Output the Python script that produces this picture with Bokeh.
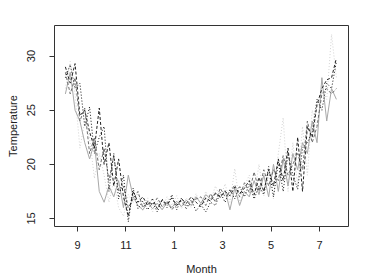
from bokeh.plotting import figure
from bokeh.models import Range1d, FixedTicker
from bokeh.embed import file_html
from bokeh.resources import INLINE

# month position (9 = Sep, 13 = Jan of next year, 19 = Jul)
month = [8.5, 8.7, 8.9, 9.1, 9.3, 9.5, 9.7, 9.9, 10.1, 10.3, 10.5, 10.7, 10.9,
         11.1, 11.3, 11.5, 11.7, 11.9, 12.1, 12.3, 12.5, 12.7, 12.9, 13.1, 13.3,
         13.5, 13.7, 13.9, 14.1, 14.3, 14.5, 14.7, 14.9, 15.1, 15.3, 15.5, 15.7,
         15.9, 16.1, 16.3, 16.5, 16.7, 16.9, 17.1, 17.3, 17.5, 17.7, 17.9, 18.1,
         18.3, 18.5, 18.7, 18.9, 19.1, 19.3, 19.5, 19.7]

series_a = [26.5, 28.5, 25.0, 24.0, 22.0, 20.5, 22.0, 17.5, 16.5, 18.0, 17.0, 18.5, 16.0,
            19.0, 17.0, 16.2, 15.8, 16.5, 15.9, 16.4, 15.8, 16.5, 16.0, 16.6, 16.1,
            16.7, 16.2, 17.0, 16.4, 17.2, 16.8, 17.4, 16.9, 17.6, 15.8, 17.8, 16.2,
            17.5, 17.0, 18.5, 17.2, 19.0, 17.0, 20.0, 17.5, 20.5, 18.0, 21.0, 19.5,
            22.0, 21.0, 24.0, 22.0, 28.0, 24.0, 27.0, 26.0]
series_b = [29.0, 27.5, 29.3, 24.5, 25.0, 23.0, 21.5, 25.2, 20.0, 22.0, 18.0, 20.5, 17.0,
            15.2, 17.5, 16.5, 17.0, 16.2, 16.8, 15.9, 16.7, 16.3, 16.9, 16.2, 16.8,
            16.4, 17.0, 16.5, 16.1, 16.9, 16.6, 17.3, 17.0, 17.5, 17.1, 17.9, 17.3,
            17.8, 18.5, 17.2, 18.8, 17.5, 19.5, 18.0, 20.5, 18.5, 21.5, 17.5, 22.5,
            17.5, 23.5, 22.5, 25.5, 27.0, 27.8, 28.0, 29.8]
series_c = [28.0, 29.2, 27.0, 27.5, 23.5, 25.3, 21.0, 22.5, 23.5, 17.5, 21.0, 16.8, 19.0,
            14.7, 17.8, 15.9, 16.6, 15.8, 16.5, 15.6, 16.8, 16.0, 17.2, 15.8, 16.9,
            16.1, 16.7, 15.7, 16.3, 15.6, 16.5, 16.2, 17.4, 16.5, 17.7, 16.8, 18.0,
            17.0, 18.2, 16.8, 18.0, 17.2, 19.8, 17.0, 20.2, 17.5, 21.0, 19.0, 17.7,
            21.5, 22.0, 23.0, 26.0, 25.0, 27.5, 27.0, 29.5]
series_d = [27.0, 29.5, 26.5, 21.5, 24.0, 22.5, 18.7, 21.0, 19.0, 16.5, 18.5, 16.0, 15.2,
            17.2, 16.5, 17.3, 15.7, 16.9, 15.6, 16.6, 15.9, 17.0, 16.2, 17.1, 15.9,
            16.9, 16.0, 17.3, 16.2, 17.5, 16.6, 18.0, 16.9, 18.2, 16.5, 19.6, 16.4,
            18.0, 19.0, 17.0, 20.0, 17.1, 19.0, 16.8, 21.0, 24.3, 17.5, 22.0, 18.0,
            23.5, 19.0, 25.0, 23.5, 27.0, 26.0, 32.0, 28.0]
series_e = [28.5, 26.5, 28.0, 24.0, 25.2, 21.0, 22.5, 19.5, 21.5, 18.5, 20.8, 17.5, 18.0,
            16.0, 16.8, 17.5, 16.0, 16.6, 16.2, 16.9, 16.1, 16.6, 15.8, 16.4, 16.6,
            15.9, 16.5, 16.8, 17.0, 16.2, 17.3, 16.5, 17.8, 17.0, 17.4, 18.1, 17.0,
            18.3, 17.4, 19.3, 17.5, 19.5, 18.0, 19.5, 18.5, 20.8, 19.0, 20.0, 21.0,
            19.5, 24.0, 22.0, 23.5, 26.5, 27.0, 26.5, 27.0]

x_ticks = [9, 11, 13, 15, 17, 19]
x_tick_labels = ["9", "11", "1", "3", "5", "7"]
y_ticks = [15, 20, 25, 30]

FONT = "Liberation Sans"

p = figure(width=374, height=280, output_backend="svg", toolbar_location=None,
           x_range=Range1d(8.05, 20.2), y_range=Range1d(14.26, 32.82),
           min_border_left=54, min_border_right=26, min_border_top=25,
           min_border_bottom=54)
p.grid.visible = False
p.outline_line_color = "#333333"
p.outline_line_width = 1
p.background_fill_color = "white"
p.border_fill_color = "white"

styles = [
    (series_d, "#d4d4d4", "1 2"),
    (series_a, "#a8a8a8", "solid"),
    (series_e, "#6e6e6e", "3 2"),
    (series_c, "#111111", "1 2"),
    (series_b, "#222222", "3 2"),
]
for ys, col, dash in styles:
    p.line(month, ys, line_color=col, line_width=1, line_dash=dash)

for ax in (p.xaxis[0], p.yaxis[0]):
    ax.axis_line_color = None
    ax.minor_tick_line_color = None
    ax.major_tick_in = 0
    ax.major_tick_out = 5
    ax.major_tick_line_color = "#333333"
    ax.major_label_text_font = FONT
    ax.major_label_text_font_size = "11px"
    ax.major_label_text_color = "#222222"
    ax.axis_label_text_font = FONT
    ax.axis_label_text_font_size = "11px"
    ax.axis_label_text_font_style = "normal"
    ax.axis_label_text_color = "#222222"

p.xaxis.ticker = FixedTicker(ticks=x_ticks)
p.xaxis.major_label_overrides = {t: l for t, l in zip(x_ticks, x_tick_labels)}
p.xaxis.axis_label = "Month"
p.xaxis.major_label_standoff = 9
p.xaxis.axis_label_standoff = 11

p.yaxis.ticker = FixedTicker(ticks=y_ticks)
p.yaxis.major_label_orientation = "vertical"
p.yaxis.axis_label = "Temperature"
p.yaxis.major_label_standoff = 14
p.yaxis.axis_label_standoff = 6

open("out.html", "w").write(file_html(p, INLINE))
